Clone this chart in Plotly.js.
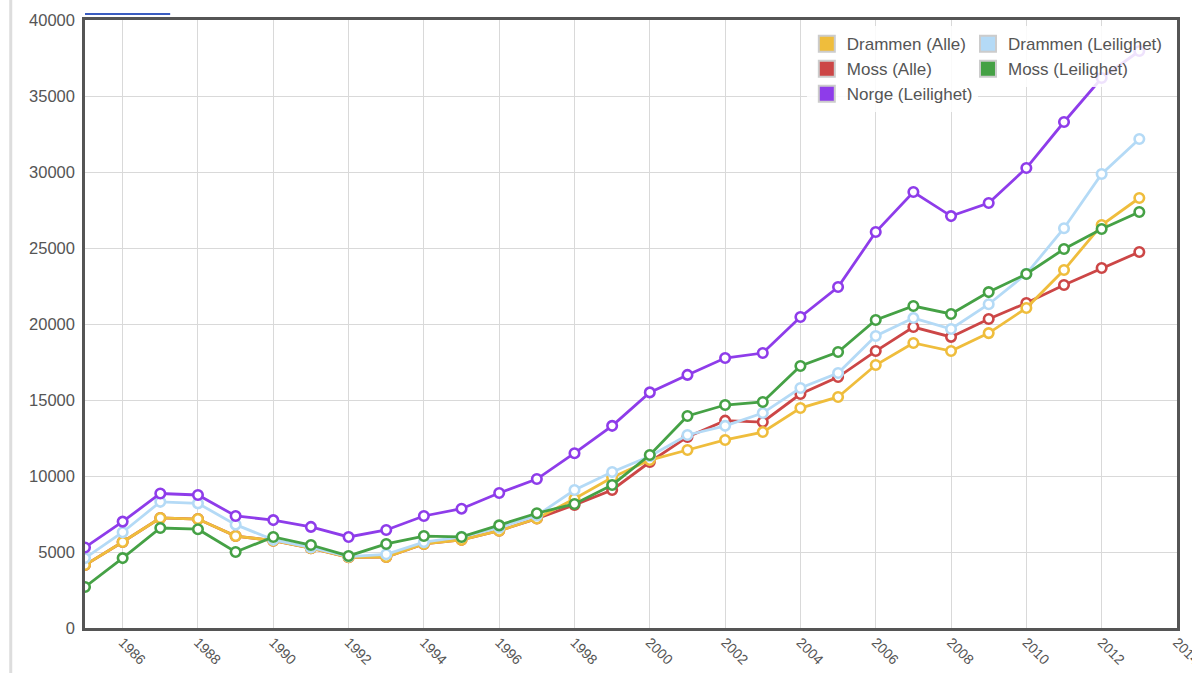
<!DOCTYPE html>
<html>
<head>
<meta charset="utf-8">
<script src="https://cdn.plot.ly/plotly-3.0.1.min.js"></script>
<style>html,body{margin:0;padding:0;background:#fff;}#chart{width:1192px;height:673px;}</style>
</head>
<body>
<div id="chart"></div>
<script>
const years = [1985,1986,1987,1988,1989,1990,1991,1992,1993,1994,1995,1996,1997,1998,1999,2000,2001,2002,2003,2004,2005,2006,2007,2008,2009,2010,2011,2012,2013];
const drammenAlle = [4140,5660,7240,7170,6050,5750,5250,4650,4670,5530,5800,6400,7200,8500,9900,11050,11710,12370,12890,14470,15200,17300,18750,18220,19400,21050,23550,26510,28290];
const drammenLeil = [4600,6300,8300,8200,6800,5800,5300,4700,4850,5650,6000,6600,7400,9080,10260,11300,12700,13300,14140,15790,16780,19210,20390,19670,21300,23300,26300,29870,32170];
const mossAlle = [4140,5660,7240,7170,6050,5750,5250,4650,4670,5530,5800,6400,7200,8100,9080,10920,12570,13640,13550,15390,16510,18220,19800,19150,20330,21380,22570,23680,24740];
const mossLeil = [2700,4600,6580,6500,5000,5990,5460,4740,5530,6050,5990,6750,7550,8160,9410,11380,13950,14670,14870,17240,18160,20260,21180,20660,22100,23290,24930,26250,27370];
const norgeLeil = [5300,7000,8850,8750,7370,7100,6650,5990,6450,7370,7850,8880,9800,11500,13300,15500,16650,17760,18090,20460,22430,26050,28680,27100,27960,30260,33290,36180,37960];

const names = ['Drammen (Alle)','Drammen (Leilighet)','Moss (Alle)','Moss (Leilighet)','Norge (Leilighet)'];
const colors = ['#EFBD3C','#B4DAF6','#CC4646','#45A145','#8E3CEA'];
const seriesList = [drammenAlle, drammenLeil, mossAlle, mossLeil, norgeLeil];
const drawOrder = [2,0,1,3,4];

const traces = [];
drawOrder.forEach(i => {
  traces.push({
    x: years, y: seriesList[i], name: names[i], type: 'scatter', mode: 'lines+markers',
    showlegend: false, hoverinfo: 'x+y+name',
    line: {color: colors[i], width: 2.8},
    marker: {symbol: 'circle', size: 9.5, color: '#ffffff', line: {color: colors[i], width: 2.6}}
  });
});
// legend entries (two columns)
const legendCols = ['legend','legend2','legend','legend2','legend'];
[0,2,4,1,3].forEach(i => {
  traces.push({
    x: [null], y: [null], name: names[i], type: 'scatter', mode: 'markers',
    legend: legendCols[i], legendgroup: 'g' + i, showlegend: true, hoverinfo: 'skip',
    marker: {symbol: 'square', size: 16, color: colors[i], line: {color: '#cccccc', width: 2}}
  });
});

const legendBase = {
  xanchor: 'left', yanchor: 'top', orientation: 'v',
  bgcolor: 'rgba(255,255,255,0.85)', borderwidth: 0,
  font: {family: 'Liberation Sans, Arial, sans-serif', size: 17, color: '#555'},
  tracegroupgap: 0, itemclick: false
};

const layout = {
  width: 1192, height: 673,
  margin: {l: 85, r: 15, t: 20, b: 45},
  paper_bgcolor: '#ffffff', plot_bgcolor: '#ffffff',
  font: {family: 'Liberation Sans, Arial, sans-serif', size: 16, color: '#555'},
  xaxis: {
    range: [1985, 2014.001], tick0: 1986, dtick: 2, tickangle: 45,
    showgrid: true, gridcolor: '#d9d9d9', gridwidth: 1,
    showline: true, linecolor: '#555555', linewidth: 2.5, mirror: true,
    zeroline: false, ticks: '', tickfont: {size: 14, color: '#555'},
    ticklabeloverflow: 'allow', ticklabelstandoff: -2
  },
  yaxis: {
    range: [0, 40000], tick0: 0, dtick: 5000,
    showgrid: true, gridcolor: '#d9d9d9', gridwidth: 1,
    showline: true, linecolor: '#555555', linewidth: 2.5, mirror: true,
    zeroline: false, ticks: '', tickfont: {size: 16.5, color: '#555'},
    tickformat: 'd', ticklabelstandoff: 4
  },
  legend: Object.assign({}, legendBase, {x: 0.661, y: 0.99}),
  legend2: Object.assign({}, legendBase, {x: 0.8086, y: 0.99}),
  shapes: [
    {type: 'line', xref: 'paper', yref: 'paper', x0: -0.068, x1: -0.068, y0: -0.08, y1: 1.04,
     line: {color: '#dddddd', width: 3}},
    {type: 'line', xref: 'paper', yref: 'paper', x0: 0, x1: 0.078, y0: 1.01, y1: 1.01,
     line: {color: '#3a5cc0', width: 2}}
  ],
  showlegend: true
};

Plotly.newPlot('chart', traces, layout, {displayModeBar: false});
</script>
</body>
</html>
